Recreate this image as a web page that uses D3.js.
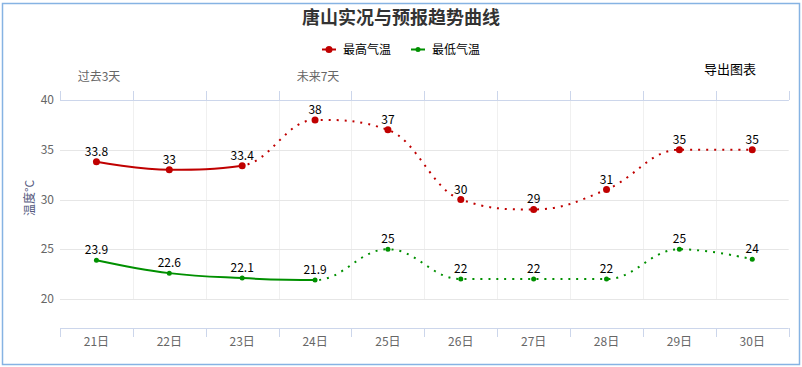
<!DOCTYPE html>
<html><head><meta charset="utf-8">
<script src="https://cdn.jsdelivr.net/npm/d3@7"></script>
<style>
html,body{margin:0;padding:0;background:#fff;}
svg{display:block;font-family:"Noto Sans CJK SC","Microsoft YaHei",sans-serif;}
</style></head>
<body>
<svg id="chart" width="802" height="367"></svg>
<script>
const categories = ["21日","22日","23日","24日","25日","26日","27日","28日","29日","30日"];
const highTemps = [33.8, 33, 33.4, 38, 37, 30, 29, 31, 35, 35];
const lowTemps  = [23.9, 22.6, 22.1, 21.9, 25, 22, 22, 22, 25, 24];
const highPastIndex = 2;   // solid up to 23日
const lowPastIndex = 3;    // solid up to 24日
const yTicks = [20, 25, 30, 35, 40];
const topLabels = [{text:"过去3天", x:99}, {text:"未来7天", x:318}];
const title = "唐山实况与预报趋势曲线";
const seriesNames = ["最高气温", "最低气温"];
const colors = {high:"#c00000", low:"#009000"};

(function(){
const svg = d3.select("#chart");
const pLeft = 60, pRight = 788.7, pTop = 100, pBottom = 299, xAxisY = 328;

svg.append("rect").attr("x",2.5).attr("y",3.5).attr("width",797).attr("height",361)
  .attr("fill","#fff").attr("stroke","#86b3e3").attr("stroke-width",1.5);

const x = d3.scaleBand().domain(categories).range([pLeft, pRight]);
const y = d3.scaleLinear().domain([20, 40]).range([pBottom, pTop]);
const cx = d => x(d) + x.bandwidth()/2;

// vertical grid
const bounds = categories.map(c => x(c)).concat([pRight]);
svg.append("g").selectAll("line").data(bounds.slice(1,-1)).join("line")
  .attr("x1",d=>Math.round(d)+0.5).attr("x2",d=>Math.round(d)+0.5).attr("y1",pTop).attr("y2",pBottom)
  .attr("stroke","#f0f0f0").attr("stroke-width",1);
// horizontal grid
svg.append("g").selectAll("line").data(yTicks).join("line")
  .attr("x1",pLeft).attr("x2",pRight).attr("y1",d=>Math.round(y(d))+0.5).attr("y2",d=>Math.round(y(d))+0.5)
  .attr("stroke",d=>d===40?"#ccd6eb":"#e6e6e6").attr("stroke-width",1);
// y labels
svg.append("g").selectAll("text").data(yTicks).join("text")
  .attr("x",54).attr("y",d=>y(d)).attr("dy","0.35em").attr("text-anchor","end")
  .attr("font-size",12).attr("fill","#666").text(d=>d);
// y title
svg.append("text").attr("transform","translate(30,198) rotate(-90)").attr("text-anchor","middle")
  .attr("dy","0.35em").attr("font-size",12).attr("fill","#555a80").text("温度°C");

// top axis
svg.append("line").attr("x1",pLeft).attr("x2",pRight).attr("y1",100.5).attr("y2",100.5).attr("stroke","#ccd6eb");
svg.append("g").selectAll("line").data(bounds).join("line")
  .attr("x1",d=>Math.round(d)+0.5).attr("x2",d=>Math.round(d)+0.5).attr("y1",91).attr("y2",100)
  .attr("stroke","#ccd6eb");
svg.append("g").selectAll("text").data(topLabels).join("text")
  .attr("x",d=>d.x).attr("y",77).attr("dy","0.35em").attr("text-anchor","middle")
  .attr("font-size",12).attr("fill","#666").text(d=>d.text);

// bottom axis
svg.append("line").attr("x1",pLeft).attr("x2",pRight).attr("y1",xAxisY+0.5).attr("y2",xAxisY+0.5).attr("stroke","#ccd6eb");
svg.append("g").selectAll("line").data(bounds).join("line")
  .attr("x1",d=>Math.round(d)+0.5).attr("x2",d=>Math.round(d)+0.5).attr("y1",xAxisY).attr("y2",xAxisY+9)
  .attr("stroke","#ccd6eb");
svg.append("g").selectAll("text").data(categories).join("text")
  .attr("x",d=>cx(d)).attr("y",342).attr("dy","0.35em").attr("text-anchor","middle")
  .attr("font-size",12).attr("fill","#666").text(d=>d);

// Highcharts-like spline
function splinePath(pts){
  const sm=1.5, den=sm+1;
  const ctrl = pts.map((p,i)=>{
    if(i===0||i===pts.length-1) return null;
    const [lx,ly]=pts[i-1], [px,py]=p, [nx,ny]=pts[i+1];
    let lcx=(sm*px+lx)/den, lcy=(sm*py+ly)/den, rcx=(sm*px+nx)/den, rcy=(sm*py+ny)/den;
    if(rcx!==lcx){ const corr=((rcy-lcy)*(rcx-px))/(rcx-lcx)+py-rcy; lcy+=corr; rcy+=corr; }
    if(lcy>ly && lcy>py){ lcy=Math.max(ly,py); rcy=2*py-lcy; }
    else if(lcy<ly && lcy<py){ lcy=Math.min(ly,py); rcy=2*py-lcy; }
    if(rcy>ny && rcy>py){ rcy=Math.max(ny,py); lcy=2*py-rcy; }
    else if(rcy<ny && rcy<py){ rcy=Math.min(ny,py); lcy=2*py-rcy; }
    return {lcx,lcy,rcx,rcy};
  });
  const p = d3.path();
  p.moveTo(pts[0][0], pts[0][1]);
  for(let i=1;i<pts.length;i++){
    const a = ctrl[i-1] ? [ctrl[i-1].rcx, ctrl[i-1].rcy] : pts[i-1];
    const b = ctrl[i] ? [ctrl[i].lcx, ctrl[i].lcy] : pts[i];
    p.bezierCurveTo(a[0],a[1],b[0],b[1],pts[i][0],pts[i][1]);
  }
  return p.toString();
}

const defs = svg.append("defs");
function drawSeries(vals, pastIdx, color, key, r){
  const pts = vals.map((v,i)=>[cx(categories[i]), y(v)]);
  const d = splinePath(pts);
  const splitX = pts[pastIdx][0];
  defs.append("clipPath").attr("id","past-"+key).append("rect")
    .attr("x",0).attr("y",0).attr("width",splitX).attr("height",367);
  defs.append("clipPath").attr("id","fut-"+key).append("rect")
    .attr("x",splitX).attr("y",0).attr("width",802-splitX).attr("height",367);
  svg.append("path").attr("d",d).attr("fill","none").attr("stroke",color).attr("stroke-width",2)
    .attr("clip-path","url(#past-"+key+")");
  svg.append("path").attr("d",d).attr("fill","none").attr("stroke",color).attr("stroke-width",2)
    .attr("stroke-dasharray","2,6").attr("clip-path","url(#fut-"+key+")");
  svg.append("g").selectAll("circle").data(pts).join("circle")
    .attr("cx",p=>p[0]).attr("cy",p=>p[1]).attr("r",r).attr("fill",color);
  svg.append("g").selectAll("text").data(vals).join("text")
    .attr("x",(v,i)=>pts[i][0]).attr("y",(v,i)=>pts[i][1]-6).attr("text-anchor","middle")
    .attr("font-size",12).attr("fill","#000").text(v=>v);
}
drawSeries(highTemps, highPastIndex, colors.high, "h", 3.5);
drawSeries(lowTemps, lowPastIndex, colors.low, "l", 2.5);

// title
svg.append("text").attr("x",401).attr("y",18).attr("dy","0.35em").attr("text-anchor","middle")
  .attr("font-size",18).attr("font-weight","bold").attr("fill","#333").text(title);

// legend
const legend = [{name:seriesNames[0], color:colors.high, x:322, r:3.5},
                {name:seriesNames[1], color:colors.low, x:411, r:2.5}];
const lg = svg.append("g").selectAll("g").data(legend).join("g");
lg.append("line").attr("x1",d=>d.x).attr("x2",d=>d.x+14).attr("y1",49.5).attr("y2",49.5)
  .attr("stroke",d=>d.color).attr("stroke-width",2);
lg.append("circle").attr("cx",d=>d.x+7).attr("cy",49.5).attr("r",d=>d.r).attr("fill",d=>d.color);
lg.append("text").attr("x",d=>d.x+21).attr("y",50).attr("dy","0.35em")
  .attr("font-size",12).attr("fill","#000").text(d=>d.name);

svg.append("text").attr("x",704).attr("y",69).attr("dy","0.35em")
  .attr("font-size",13).attr("fill","#000").text("导出图表");
})();
</script>
</body></html>
